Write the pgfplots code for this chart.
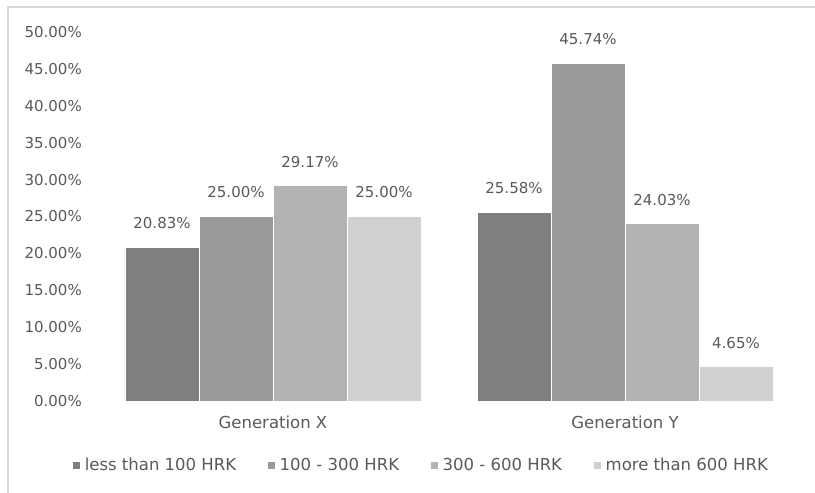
\documentclass[border=0pt]{standalone}
\usepackage{fontspec}
\setmainfont{DejaVu Sans}
\usepackage{pgfplots}
\pgfplotsset{compat=1.18}
\definecolor{c1}{HTML}{7F7F7F}
\definecolor{c2}{HTML}{999999}
\definecolor{c3}{HTML}{B2B2B2}
\definecolor{c4}{HTML}{D0D0D0}
\definecolor{txt}{HTML}{595959}
\definecolor{framec}{HTML}{D9D9D9}
\begin{document}
\begin{tikzpicture}
\path[use as bounding box] (0bp,0bp) rectangle (815bp,493bp);
\draw[framec, line width=1.5bp] (8bp,0bp) -- (8bp,486bp) -- (815bp,486bp);
\begin{axis}[
  at={(97bp,92bp)}, anchor=south west, scale only axis,
  width=704bp, height=369bp,
  xmin=-0.5, xmax=1.5, ymin=0, ymax=50,
  ybar=0pt, bar width=74bp,
  axis line style={draw=none}, major tick length=0pt,
  xtick={0,1}, xticklabels={Generation X, Generation Y},
  ytick={0,5,10,15,20,25,30,35,40,45,50},
  /pgf/number format/assume math mode=true,
  yticklabel={\pgfmathprintnumber[fixed,fixed zerofill,precision=2]{\tick}\%},
  yticklabel style={font=\fontsize{15bp}{18bp}\selectfont, text=txt, anchor=east, inner sep=0pt, xshift=-15bp},
  xticklabel style={font=\fontsize{16.5bp}{18bp}\selectfont, text=txt, anchor=center, inner sep=0pt, yshift=-21bp},
  nodes near coords={\pgfmathprintnumber[fixed,fixed zerofill,precision=2]{\pgfplotspointmeta}\%},
  nodes near coords style={font=\fontsize{15bp}{18bp}\selectfont, text=txt, anchor=center, inner sep=0pt, yshift=24bp},
  legend image code/.code={\path[fill] (0bp,-4bp) rectangle (8bp,4bp);},
  legend columns=4,
  legend style={at={(-0.0355,-0.1734)}, anchor=west, draw=none, fill=none, inner sep=0pt,
    nodes={inner sep=0pt}, font=\fontsize{16.5bp}{18bp}\selectfont, text=txt,
    /tikz/every even column/.append style={column sep=31bp},
    /tikz/every odd column/.append style={column sep=4bp}},
]
\addplot[fill=c1, draw=white, line width=0.6bp] coordinates {(0,20.83) (1,25.58)};
\addplot[fill=c2, draw=white, line width=0.6bp] coordinates {(0,25.00) (1,45.74)};
\addplot[fill=c3, draw=white, line width=0.6bp] coordinates {(0,29.17) (1,24.03)};
\addplot[fill=c4, draw=white, line width=0.6bp] coordinates {(0,25.00) (1,4.65)};
\legend{less than 100 HRK, 100 - 300 HRK, 300 - 600 HRK, more than 600 HRK}
\end{axis}
\end{tikzpicture}
\end{document}
